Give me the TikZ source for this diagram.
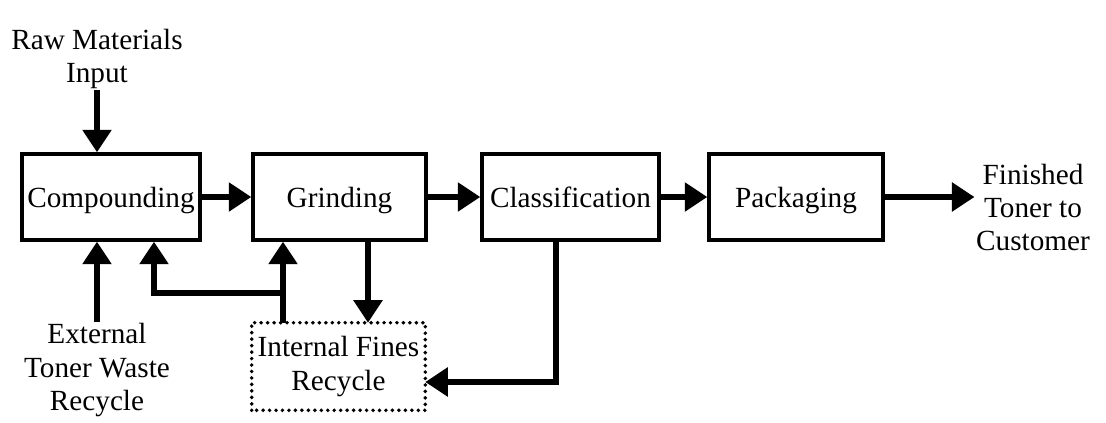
\documentclass[tikz,border=0pt]{standalone}
\usepackage{fontspec}
\setmainfont{Liberation Serif}
\usetikzlibrary{arrows.meta}

\tikzset{
    schritt/.style={draw, line width=2.4pt, minimum height=2.15cm, inner sep=0pt,
        text height=17pt, text depth=1.6pt,
        font=\fontsize{20.8}{23.5}\selectfont},
    kasten/.style={minimum width=4.325cm, minimum height=2.175cm, inner sep=0pt, align=center,
        font=\fontsize{20.8}{23.5}\selectfont},
    punkte/.style={line width=2.8pt, dash pattern=on 0pt off 4.6pt, line cap=round},
    beschr/.style={align=center, inner sep=1pt, font=\fontsize{20.8}{23.5}\selectfont},
    pfeil/.style={line width=3.6pt, -{Triangle[length=16pt,width=20pt]}}
}

\begin{document}
\begin{tikzpicture}
    \useasboundingbox (0,0) rectangle (27.65,10.55);

    % Prozessschritte als Kaesten
    \node[schritt, minimum width=4.45cm] (comp) at (2.775,5.625) {Compounding};
    \node[schritt, minimum width=4.325cm] (grind) at (8.4875,5.625) {Grinding};
    \node[schritt, minimum width=4.425cm] (class) at (14.2625,5.625) {Classification};
    \node[schritt, minimum width=4.35cm] (pack) at (19.9,5.625) {Packaging};

    % gepunkteter Kasten fuer den internen Kreislauf
    \node[kasten] (intfines) at (8.4625,1.3875) {Internal Fines\\Recycle};
    \draw[punkte] (intfines.south west) rectangle (intfines.north east);

    % Ein- und Ausgaenge
    \node[beschr, anchor=south] (raw) at (2.425,8.3) {Raw Materials\\Input};
    \node[beschr, anchor=north] (extern) at (2.425,2.5) {External\\Toner Waste\\Recycle};
    \node[beschr] (fertig) at (25.825,5.3625) {Finished\\Toner to\\Customer};

    % Hauptstrom
    \draw[pfeil] (raw.south) -- (raw.south |- comp.north);
    \draw[pfeil] (comp) -- (grind);
    \draw[pfeil] (grind) -- (class);
    \draw[pfeil] (class) -- (pack);
    \draw[pfeil] (pack.east) -- (pack.east -| fertig.west);
    \draw[pfeil] (extern.north) -- (extern.north |- comp.south);

    % Rueckfuehrung der Feinanteile
    \coordinate (abzw) at (7.075,3.225);
    \coordinate (rueck) at (3.85,3.225);
    \coordinate (mahlab) at (9.2,3.225);
    \coordinate (klknick) at (13.9,1.0);
    \draw[pfeil] (abzw |- intfines.north) -- (abzw |- grind.south);
    \draw[pfeil] (abzw) -- (rueck) -- (rueck |- comp.south);
    \draw[pfeil] (mahlab |- grind.south) -- (mahlab |- intfines.north);
    \draw[pfeil] (klknick |- class.south) -- (klknick) -- (klknick -| intfines.east);

\end{tikzpicture}
\end{document}
